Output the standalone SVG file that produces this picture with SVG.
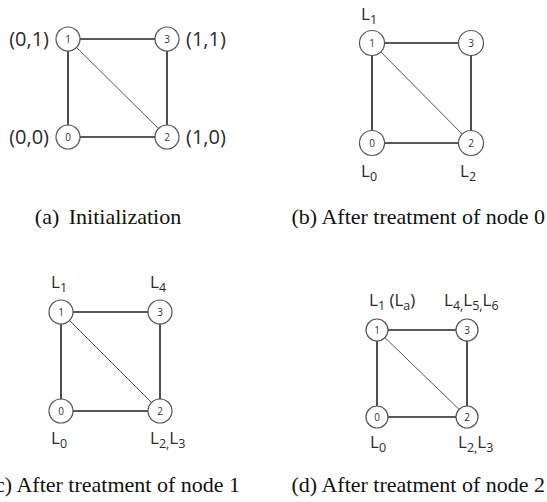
<svg xmlns="http://www.w3.org/2000/svg" width="547" height="502" viewBox="0 0 547 502">
<style>
.edge{stroke:#222;stroke-width:1.6;fill:none}
.diag{stroke:#555;stroke-width:1;fill:none}
.node circle{fill:#fff;stroke:#555;stroke-width:1.2}
.num{font-family:"Open Sans","DejaVu Sans",sans-serif;font-size:10px;fill:#333;text-anchor:middle}
.lab{font-family:"Open Sans","DejaVu Sans",sans-serif;font-size:17px;fill:#2a2a2a}
.coord{font-family:"Open Sans","DejaVu Sans",sans-serif;font-size:20px;fill:#2a2a2a}
.sub{font-size:12.5px}
.cap{font-family:"Liberation Serif","Times New Roman",serif;font-size:22px;fill:#111}
</style>
<rect width="547" height="502" fill="#fff"/>
<g id="connectors">
<line class="edge" x1="68" y1="39" x2="167" y2="39"/>
<line class="edge" x1="68" y1="39" x2="68" y2="137"/>
<line class="edge" x1="167" y1="39" x2="167" y2="137"/>
<line class="edge" x1="68" y1="137" x2="167" y2="137"/>
<line class="diag" x1="68" y1="39" x2="167" y2="137"/>
<line class="edge" x1="372" y1="43" x2="471" y2="43"/>
<line class="edge" x1="372" y1="43" x2="372" y2="143"/>
<line class="edge" x1="471" y1="43" x2="471" y2="143"/>
<line class="edge" x1="372" y1="143" x2="471" y2="143"/>
<line class="diag" x1="372" y1="43" x2="471" y2="143"/>
<line class="edge" x1="61" y1="312" x2="160" y2="312"/>
<line class="edge" x1="61" y1="312" x2="61" y2="411"/>
<line class="edge" x1="160" y1="312" x2="160" y2="411"/>
<line class="edge" x1="61" y1="411" x2="160" y2="411"/>
<line class="diag" x1="61" y1="312" x2="160" y2="411"/>
<line class="edge" x1="377" y1="330" x2="467" y2="330"/>
<line class="edge" x1="377" y1="330" x2="377" y2="417"/>
<line class="edge" x1="467" y1="330" x2="467" y2="417"/>
<line class="edge" x1="377" y1="417" x2="467" y2="417"/>
<line class="diag" x1="377" y1="330" x2="467" y2="417"/>
</g>
<g id="a1" class="node"><circle cx="68" cy="39" r="12"/><text class="num" x="68" y="42.5">1</text></g>
<g id="a3" class="node"><circle cx="167" cy="39" r="12"/><text class="num" x="167" y="42.5">3</text></g>
<g id="a0" class="node"><circle cx="68" cy="137" r="12"/><text class="num" x="68" y="140.5">0</text></g>
<g id="a2" class="node"><circle cx="167" cy="137" r="12"/><text class="num" x="167" y="140.5">2</text></g>
<g id="a-labels">
<text class="coord" x="49" y="46" text-anchor="end">(0,1)</text>
<text class="coord" x="186" y="46">(1,1)</text>
<text class="coord" x="49" y="144" text-anchor="end">(0,0)</text>
<text class="coord" x="186" y="144">(1,0)</text>
</g>
<text class="cap" x="108" y="224" text-anchor="middle" word-spacing="4">(a) Initialization</text>
<g id="b1" class="node"><circle cx="372" cy="43" r="12.5"/><text class="num" x="372" y="46.5">1</text></g>
<g id="b3" class="node"><circle cx="471" cy="43" r="12.5"/><text class="num" x="471" y="46.5">3</text></g>
<g id="b0" class="node"><circle cx="372" cy="143" r="12.5"/><text class="num" x="372" y="146.5">0</text></g>
<g id="b2" class="node"><circle cx="471" cy="143" r="12.5"/><text class="num" x="471" y="146.5">2</text></g>
<g id="b-labels">
<text class="lab" x="361" y="20">L<tspan class="sub" dy="4">1</tspan></text>
<text class="lab" x="361" y="177">L<tspan class="sub" dy="4">0</tspan></text>
<text class="lab" x="460" y="177">L<tspan class="sub" dy="4">2</tspan></text>
</g>
<text class="cap" x="545" y="224" text-anchor="end">(b) After treatment of node 0</text>
<g id="c1" class="node"><circle cx="61" cy="312" r="12"/><text class="num" x="61" y="315.5">1</text></g>
<g id="c3" class="node"><circle cx="160" cy="312" r="12"/><text class="num" x="160" y="315.5">3</text></g>
<g id="c0" class="node"><circle cx="61" cy="411" r="12"/><text class="num" x="61" y="414.5">0</text></g>
<g id="c2" class="node"><circle cx="160" cy="411" r="12"/><text class="num" x="160" y="414.5">2</text></g>
<g id="c-labels">
<text class="lab" x="51" y="288">L<tspan class="sub" dy="4">1</tspan></text>
<text class="lab" x="150" y="288">L<tspan class="sub" dy="4">4</tspan></text>
<text class="lab" x="51" y="444">L<tspan class="sub" dy="4">0</tspan></text>
<text class="lab" x="150" y="444">L<tspan class="sub" dy="4">2,</tspan><tspan dy="-4">L</tspan><tspan class="sub" dy="4">3</tspan></text>
</g>
<text class="cap" x="240" y="492" text-anchor="end">(c) After treatment of node 1</text>
<g id="d1" class="node"><circle cx="377" cy="330" r="11"/><text class="num" x="377" y="333.5">1</text></g>
<g id="d3" class="node"><circle cx="467" cy="330" r="11"/><text class="num" x="467" y="333.5">3</text></g>
<g id="d0" class="node"><circle cx="377" cy="417" r="11"/><text class="num" x="377" y="420.5">0</text></g>
<g id="d2" class="node"><circle cx="467" cy="417" r="11"/><text class="num" x="467" y="420.5">2</text></g>
<g id="d-labels">
<text class="lab" x="369" y="306">L<tspan class="sub" dy="4">1</tspan><tspan dy="-4"> (L</tspan><tspan class="sub" dy="4">a</tspan><tspan dy="-4">)</tspan></text>
<text class="lab" x="444" y="306">L<tspan class="sub" dy="4">4,</tspan><tspan dy="-4">L</tspan><tspan class="sub" dy="4">5,</tspan><tspan dy="-4">L</tspan><tspan class="sub" dy="4">6</tspan></text>
<text class="lab" x="370" y="448">L<tspan class="sub" dy="4">0</tspan></text>
<text class="lab" x="458" y="448">L<tspan class="sub" dy="4">2,</tspan><tspan dy="-4">L</tspan><tspan class="sub" dy="4">3</tspan></text>
</g>
<text class="cap" x="545" y="492" text-anchor="end">(d) After treatment of node 2</text>
</svg>
